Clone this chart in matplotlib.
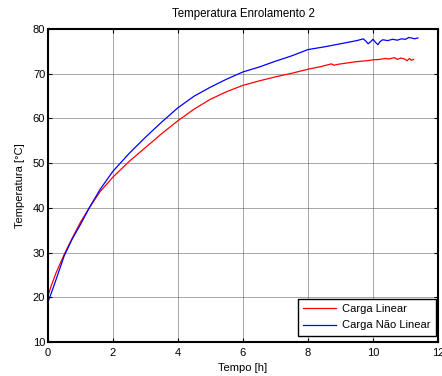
import matplotlib
matplotlib.use("Agg")
import matplotlib.pyplot as plt

plt.rcParams['font.family'] = ['Liberation Sans', 'DejaVu Sans']

title = "Temperatura Enrolamento 2"
xlabel = "Tempo [h]"
ylabel = "Temperatura [°C]"
labels = ["Carga Linear", "Carga Não Linear"]

t_lin = [0.0, 0.1, 0.25, 0.5, 0.75, 1.0, 1.27, 1.6, 2.0, 2.5, 3.0, 3.5, 4.0, 4.5, 5.0,
         5.5, 6.0, 6.5, 7.0, 7.5, 8.0, 8.4, 8.72, 8.8, 8.92, 9.2, 9.5, 9.8, 10.0, 10.2,
         10.36, 10.5, 10.66, 10.75, 10.85, 10.97, 11.05, 11.12, 11.18, 11.25]
y_lin = [20.3, 22.6, 25.5, 29.6, 33.3, 36.8, 40.0, 43.6, 46.9, 50.4, 53.5, 56.6, 59.5, 62.1, 64.3,
         66.0, 67.4, 68.4, 69.3, 70.1, 71.0, 71.6, 72.2, 71.9, 72.1, 72.4, 72.7, 72.9, 73.1, 73.2,
         73.4, 73.3, 73.6, 73.2, 73.5, 73.3, 72.9, 73.4, 73.0, 73.2]

t_nlin = [0.0, 0.1, 0.25, 0.5, 0.75, 1.0, 1.27, 1.6, 2.0, 2.5, 3.0, 3.5, 4.0, 4.5,
          5.0, 5.5, 6.0, 6.5, 7.0, 7.5, 8.0, 8.5, 9.0, 9.5, 9.7, 9.78, 9.85, 9.92, 10.0,
          10.08, 10.15, 10.22, 10.3, 10.45, 10.6, 10.75, 10.87, 11.0, 11.1, 11.18, 11.28, 11.38]
y_nlin = [19.0, 20.9, 24.0, 29.3, 33.1, 36.3, 40.0, 44.1, 48.2, 52.2, 55.8, 59.2, 62.4, 65.0,
          67.0, 68.8, 70.4, 71.5, 72.8, 74.0, 75.4, 76.0, 76.7, 77.4, 77.8, 77.3, 76.7, 77.1, 77.7,
          77.0, 76.5, 77.2, 77.6, 77.4, 77.7, 77.5, 77.8, 77.7, 78.1, 78.0, 77.8, 78.0]

xticks = [0, 2, 4, 6, 8, 10, 12]
yticks = [10, 20, 30, 40, 50, 60, 70, 80]

fig = plt.figure(figsize=(4.42, 3.76), dpi=100)
ax = fig.add_axes([48/442, 1-342/376, 390/442, 313/376])

ax.plot(t_lin, y_lin, color='#ff0000', lw=0.9, label=labels[0])
ax.plot(t_nlin, y_nlin, color='#0000ff', lw=0.9, label=labels[1])

ax.set_xlim(0, 12)
ax.set_ylim(10, 80)
ax.set_xticks(xticks)
ax.set_yticks(yticks)
ax.grid(True, color='#555555', lw=0.6, alpha=0.6)
ax.tick_params(direction='in', top=True, right=True, labelsize=8, length=3, width=0.8)
ax.tick_params(axis='x', pad=4.2)
ax.tick_params(axis='y', pad=2)
for s in ax.spines.values():
    s.set_linewidth(1.5)

ax.set_title(title, fontsize=8.3, pad=8.5)
ax.set_xlabel(xlabel, fontsize=8, labelpad=3.5)
ax.set_ylabel(ylabel, fontsize=8, labelpad=5.5)

leg = ax.legend(loc='lower right', bbox_to_anchor=(436/442, 1-336/376),
                bbox_transform=fig.transFigure, fontsize=8, fancybox=False, framealpha=1,
                edgecolor='black', handlelength=3.0, handletextpad=0.5, borderaxespad=0,
                borderpad=0.5, labelspacing=0.55)
leg.get_frame().set_linewidth(1.0)

fig.savefig("out.png", dpi=100)
